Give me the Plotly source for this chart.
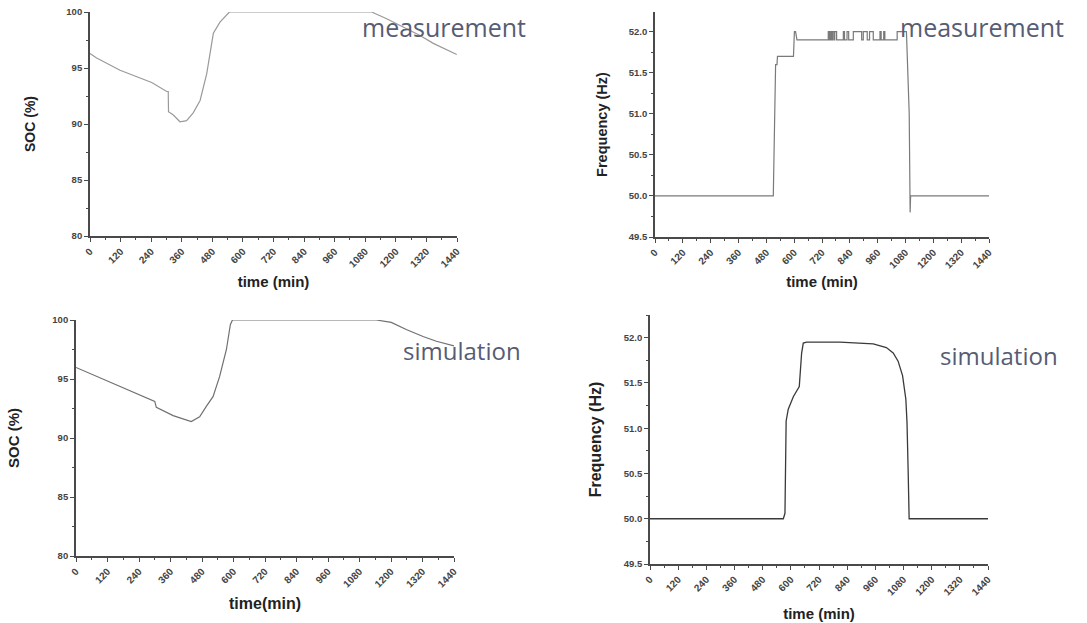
import plotly.graph_objects as go

# ---- data ----
soc_meas_t = [0, 26, 118, 242, 301, 307, 308, 327, 353, 379, 405, 432, 458, 484, 510, 547, 1105, 1164, 1295, 1347, 1439]
soc_meas_v = [96.3, 95.9, 94.8, 93.7, 92.9, 92.9, 91.1, 90.8, 90.2, 90.3, 91.0, 92.1, 94.5, 98.1, 99.1, 100, 100, 99.4, 97.9, 97.2, 96.2]

freq_meas_t = [0, 510, 520, 522, 526, 528, 539, 541, 597, 601, 606, 612, 614,
               747, 747, 752, 752, 755, 755, 760, 760, 765, 765, 771, 771, 775, 775, 783, 783,
               812, 812, 817, 817, 828, 828, 835, 835, 855, 855,
               891, 891, 898, 898, 915, 915, 925, 925, 941, 941,
               970, 970, 975, 975, 986, 986, 991, 991,
               1044, 1044, 1084, 1096, 1098, 1100, 1102, 1440]
freq_meas_v = [50.0, 50.0, 51.6, 51.6, 51.6, 51.7, 51.7, 51.7, 51.7, 52.0, 52.0, 51.9, 51.9,
               51.9, 52.0, 52.0, 51.9, 51.9, 52.0, 52.0, 51.9, 51.9, 52.0, 52.0, 51.9, 51.9, 52.0, 52.0, 51.9,
               51.9, 52.0, 52.0, 51.9, 51.9, 52.0, 52.0, 51.9, 51.9, 52.0,
               52.0, 51.9, 51.9, 52.0, 52.0, 51.9, 51.9, 52.0, 52.0, 51.9,
               51.9, 52.0, 52.0, 51.9, 51.9, 52.0, 52.0, 51.9,
               51.9, 52.0, 52.0, 51.0, 49.8, 49.8, 50.0, 50.0]

soc_sim_t = [0, 300, 306, 370, 439, 471, 497, 522, 547, 573, 588, 596, 1144, 1201, 1258, 1322, 1373, 1440]
soc_sim_v = [95.98, 93.1, 92.6, 91.9, 91.4, 91.8, 92.7, 93.5, 95.2, 97.5, 99.6, 100, 100, 99.8, 99.2, 98.6, 98.2, 97.8]

freq_sim_t = [0, 568, 575, 580, 589, 611, 636, 646, 653, 667, 809, 894, 951, 1007, 1036, 1057, 1076, 1090, 1095, 1100, 1104, 1440]
freq_sim_v = [50.0, 50.0, 50.06, 51.08, 51.21, 51.35, 51.46, 51.83, 51.94, 51.95, 51.95, 51.94, 51.93, 51.89, 51.83, 51.74, 51.58, 51.32, 51.06, 50.51, 50.0, 50.0]

time_ticks = list(range(0, 1441, 120))
soc_ticks = [80, 85, 90, 95, 100]
freq_ticks = [49.5, 50.0, 50.5, 51.0, 51.5, 52.0]
freq_tick_text = ["49.5", "50.0", "50.5", "51.0", "51.5", "52.0"]

W, H = 1087, 623

def px_x(a, b):
    return [a / W, b / W]

def px_y(top, bottom):
    return [1 - bottom / H, 1 - top / H]

fig = go.Figure()

fig.add_trace(go.Scatter(x=soc_meas_t, y=soc_meas_v, mode="lines",
                         line=dict(color="#9a9a9a", width=1.2), xaxis="x", yaxis="y", showlegend=False))
fig.add_trace(go.Scatter(x=freq_meas_t, y=freq_meas_v, mode="lines",
                         line=dict(color="#7a7a7a", width=1.2), xaxis="x2", yaxis="y2", showlegend=False))
fig.add_trace(go.Scatter(x=soc_sim_t, y=soc_sim_v, mode="lines",
                         line=dict(color="#707070", width=1.2), xaxis="x3", yaxis="y3", showlegend=False))
fig.add_trace(go.Scatter(x=freq_sim_t, y=freq_sim_v, mode="lines",
                         line=dict(color="#3a3a3a", width=1.3), xaxis="x4", yaxis="y4", showlegend=False))

xtickfont = dict(family="Liberation Sans", size=10, color="#444444")
ytickfont = dict(family="Liberation Sans", size=9.5, color="#444444")

def xaxis(domain, anchor, title, standoff, tsize):
    return dict(domain=domain, anchor=anchor, range=[0, 1440], tickvals=time_ticks,
                ticktext=["<b>%d</b>" % v for v in time_ticks], tickangle=-45,
                showline=True, linecolor="#4a4a4a", linewidth=1.8, mirror=False,
                ticks="outside", ticklen=4, tickwidth=1.3, tickcolor="#4a4a4a",
                minor=dict(dtick=60, ticks="outside", ticklen=2, tickwidth=1, tickcolor="#4a4a4a"),
                showgrid=False, zeroline=False, tickfont=xtickfont, automargin=False,
                ticklabeloverflow="allow",
                title=dict(text="<b>" + title + "</b>",
                           font=dict(family="Liberation Sans", size=tsize, color="#222222"),
                           standoff=standoff))

def yaxis(domain, anchor, rng, vals, texts, title, minor_dtick, standoff, tsize):
    return dict(domain=domain, anchor=anchor, range=rng, tickvals=vals,
                ticktext=["<b>%s</b>" % t for t in texts],
                showline=True, linecolor="#4a4a4a", linewidth=1.8,
                ticks="outside", ticklen=4, tickwidth=1.3, tickcolor="#4a4a4a",
                minor=dict(dtick=minor_dtick, ticks="outside", ticklen=2, tickwidth=1, tickcolor="#4a4a4a"),
                showgrid=False, zeroline=False, tickfont=ytickfont, automargin=False,
                ticklabeloverflow="allow",
                title=dict(text="<b>" + title + "</b>",
                           font=dict(family="Liberation Sans", size=tsize, color="#222222"),
                           standoff=standoff))

soc_text = [str(v) for v in soc_ticks]

fig.update_layout(
    width=W, height=H, margin=dict(l=0, r=0, t=0, b=0, autoexpand=False),
    paper_bgcolor="white", plot_bgcolor="white", hovermode=False,
    xaxis=xaxis(px_x(90, 457), "y", "time (min)", 8, 15),
    yaxis=yaxis(px_y(12, 236), "x", [80, 100], soc_ticks, soc_text, "SOC (%)", 2.5, 27, 14),
    xaxis2=xaxis(px_x(655, 989), "y2", "time (min)", 7, 15),
    yaxis2=yaxis(px_y(12, 237), "x2", [49.5, 52.24], freq_ticks, freq_tick_text, "Frequency (Hz)", 0.25, 18, 14.5),
    xaxis3=xaxis(px_x(76, 454), "y3", "time(min)", 9, 16),
    yaxis3=yaxis(px_y(320, 556), "x3", [80, 100], soc_ticks, soc_text, "SOC (%)", 2.5, 29, 15),
    xaxis4=xaxis(px_x(650, 988), "y4", "time (min)", 12, 15),
    yaxis4=yaxis(px_y(315, 564), "x4", [49.5, 52.25], freq_ticks, freq_tick_text, "Frequency (Hz)", 0.25, 18, 16),
)

labelfont = dict(family="Open Sans", color="#575c74")
annos = [
    ("measurement", 444, 27, 25),
    ("measurement", 982, 27, 25),
    ("simulation", 462, 350, 24),
    ("simulation", 999, 355, 24),
]
for text, cx, cy, size in annos:
    fig.add_annotation(text=text, x=cx / W, y=1 - cy / H, xref="paper", yref="paper",
                       showarrow=False, xanchor="center", yanchor="middle",
                       font=dict(size=size, **labelfont))

fig.write_html("out.html", config={"displayModeBar": False},
               post_script="document.body.style.margin='0';document.body.style.overflow='hidden';")
